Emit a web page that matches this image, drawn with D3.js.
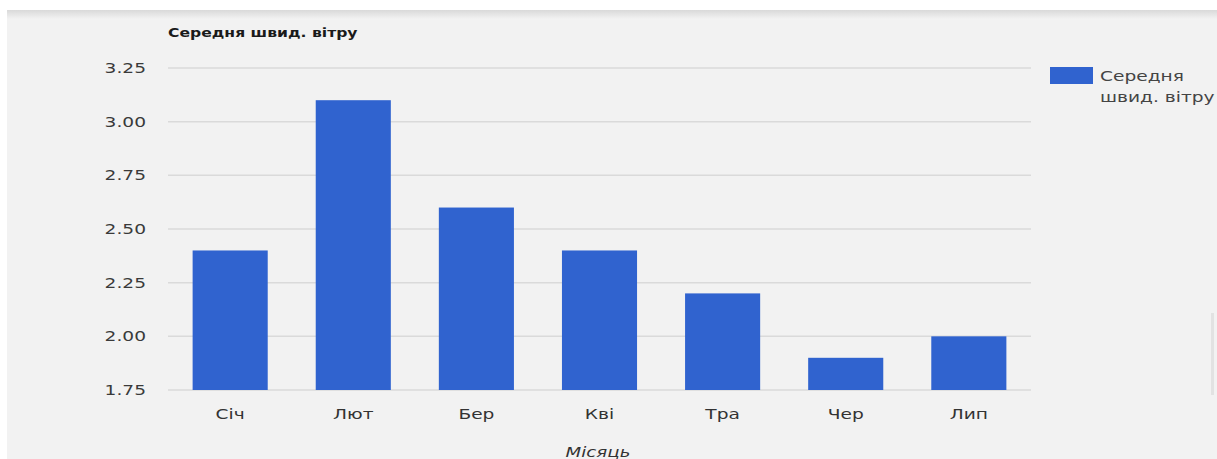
<!DOCTYPE html>
<html>
<head>
<meta charset="utf-8">
<script src="https://cdn.jsdelivr.net/npm/d3@7"></script>
<style>
  html, body { margin: 0; padding: 0; background: #fff; }
  svg { display: block; font-family: "DejaVu Sans", Verdana, sans-serif; }
</style>
</head>
<body>
<svg id="chart" width="1217" height="459"></svg>
<script>
// ---- data ----
const months = ['Січ', 'Лют', 'Бер', 'Кві', 'Тра', 'Чер', 'Лип'];
const windSpeed = [2.4, 3.1, 2.6, 2.4, 2.2, 1.9, 2.0];
const yTicks = [1.75, 2.00, 2.25, 2.50, 2.75, 3.00, 3.25];
const seriesName = 'Середня швид. вітру';
const legendLines = ['Середня', 'швид. вітру'];
const xTitle = 'Місяць';

const svg = d3.select('#chart');
const FONT = '"DejaVu Sans", Verdana, sans-serif';
const SX = 1.33; // the source picture's text is horizontally stretched

// place a text at (x,y) and widen it horizontally
function wideText(parent, x, y, str, k) {
  return parent.append('text')
    .attr('transform', `translate(${x},${y}) scale(${k},1)`)
    .attr('font-family', FONT)
    .text(str);
}

// panel background
svg.append('rect').attr('x', 7).attr('y', 10).attr('width', 1210).attr('height', 449).attr('fill', '#f2f2f2');
const grad = svg.append('defs').append('linearGradient').attr('id', 'topband').attr('x1', 0).attr('x2', 0).attr('y1', 0).attr('y2', 1);
grad.append('stop').attr('offset', 0).attr('stop-color', '#d9d9d9');
grad.append('stop').attr('offset', 1).attr('stop-color', '#f2f2f2');
svg.append('rect').attr('x', 7).attr('y', 10).attr('width', 1210).attr('height', 9).attr('fill', 'url(#topband)');
svg.append('rect').attr('x', 1211).attr('y', 313).attr('width', 3).attr('height', 82).attr('fill', '#e2e2e2');

const m = {top: 68, left: 168, right: 1031, bottom: 390};

const x = d3.scaleBand().domain(months).range([m.left, m.right]).paddingInner(0.39).paddingOuter(0.2);
const y = d3.scaleLinear().domain([1.75, 3.25]).range([m.bottom, m.top]);

// gridlines
svg.append('g').selectAll('line').data(yTicks).join('line')
  .attr('x1', m.left).attr('x2', m.right)
  .attr('y1', d => y(d)).attr('y2', d => y(d))
  .attr('stroke', '#dadada').attr('stroke-width', 1.5);

// y axis
const yAxis = svg.append('g').attr('transform', `translate(${m.left - 22},0)`)
  .call(d3.axisLeft(y).tickValues(yTicks).tickFormat(d3.format('.2f')).tickSize(0).tickPadding(0));
yAxis.select('.domain').remove();
yAxis.selectAll('text')
  .attr('transform', `scale(${SX},1)`)
  .attr('font-size', 14).attr('fill', '#3a3a3a').attr('font-family', FONT);

// bars
svg.append('g').selectAll('rect').data(windSpeed).join('rect')
  .attr('x', (d, i) => x(months[i]))
  .attr('width', x.bandwidth())
  .attr('y', d => y(d))
  .attr('height', d => y(1.75) - y(d))
  .attr('fill', '#3063cf');

// x axis
const xAxis = svg.append('g').attr('transform', `translate(0,${m.bottom})`)
  .call(d3.axisBottom(x).tickSize(0).tickPadding(19));
xAxis.select('.domain').remove();
xAxis.selectAll('text')
  .attr('transform', `scale(${SX},1)`)
  .attr('font-size', 14).attr('fill', '#333').attr('font-family', FONT);

// titles
wideText(svg, 168, 37, seriesName, 1.25)
  .attr('font-size', 12.5).attr('font-weight', 'bold').attr('fill', '#1a1a1a');

wideText(svg, 598, 457, xTitle, 1.3)
  .attr('text-anchor', 'middle')
  .attr('font-size', 14).attr('font-style', 'italic').attr('fill', '#333');

// legend
const lg = svg.append('g');
lg.append('rect').attr('x', 1050).attr('y', 67).attr('width', 43).attr('height', 17).attr('fill', '#3063cf');
legendLines.forEach((t, i) => {
  wideText(lg, 1100, 81 + i * 21, t, 1.33).attr('font-size', 14).attr('fill', '#444');
});
</script>
</body>
</html>
